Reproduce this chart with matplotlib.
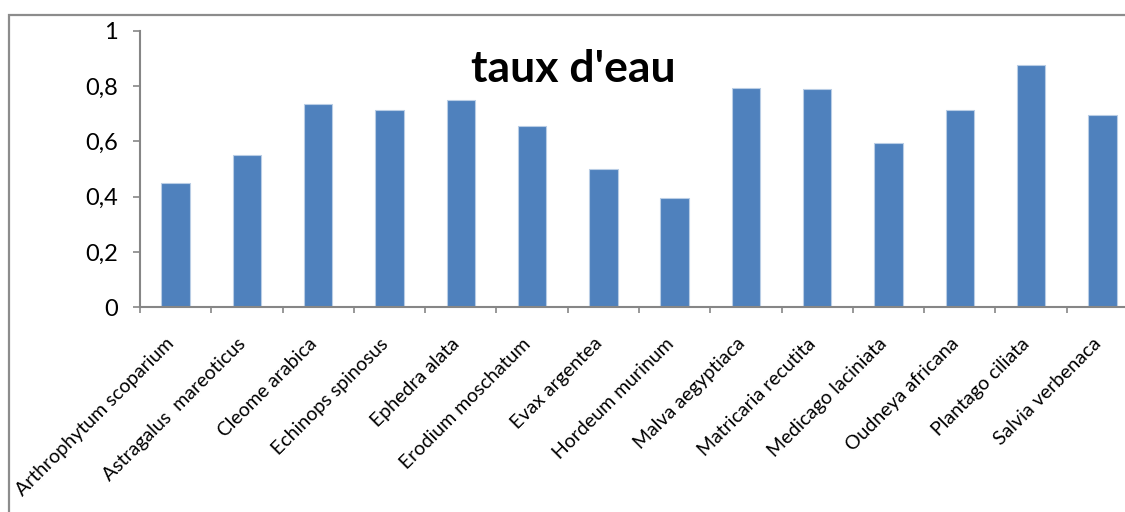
import numpy as np
import matplotlib
matplotlib.use("Agg")
import matplotlib.pyplot as plt
from matplotlib.patches import Rectangle
from matplotlib.transforms import ScaledTranslation

# Species and water content values
species = ["Arthrophytum scoparium", "Astragalus  mareoticus", "Cleome arabica",
           "Echinops spinosus", "Ephedra alata", "Erodium moschatum", "Evax argentea",
           "Hordeum murinum", "Malva aegyptiaca", "Matricaria recutita",
           "Medicago laciniata", "Oudneya africana", "Plantago ciliata", "Salvia verbenaca"]
taux_eau = [0.448, 0.549, 0.734, 0.713, 0.751, 0.657, 0.499,
            0.395, 0.793, 0.788, 0.595, 0.712, 0.875, 0.696]
yticks = [0, 0.2, 0.4, 0.6, 0.8, 1]
ytick_labels = ["0", "0,2", "0,4", "0,6", "0,8", "1"]

plt.rcParams['font.family'] = ['Lato', 'DejaVu Sans']
axis_col = '#868686'

fig = plt.figure(figsize=(11.25, 5.12), dpi=100)
fig.patch.set_facecolor('white')

# chart area border (cropped off on the right and bottom)
fig.patches.append(Rectangle((9/1125, -0.1), 1.1, 1.1 - 15/512,
                             transform=fig.transFigure, fill=False,
                             edgecolor='#8c8c8c', linewidth=1.6))

ax = fig.add_axes([140/1125, 1 - 307.3/512, 998/1125, 276.6/512])
x = np.arange(len(species))
ax.bar(x, taux_eau, width=0.4, color='#4F81BD', edgecolor='#B9CDE5', linewidth=0.8)

ax.set_xlim(-0.5, len(species) - 0.5)
ax.set_ylim(0, 1)
ax.set_yticks(yticks)
ax.set_yticklabels(ytick_labels)

ax.set_xticks(x)
ax.set_xticklabels(species, rotation=45, ha='right', va='top', rotation_mode='anchor')
ax.set_xticks(np.arange(len(species) + 1) - 0.5, minor=True)
ax.tick_params(axis='x', which='major', length=0, pad=12, labelsize=14)
ax.tick_params(axis='x', which='minor', length=4, width=1.2, color=axis_col, direction='out')
ax.tick_params(axis='y', length=5, width=1.2, color=axis_col, pad=11, labelsize=17)

shift = ScaledTranslation(-10/100, -11/100, fig.dpi_scale_trans)
for lbl in ax.get_xticklabels():
    lbl.set_transform(lbl.get_transform() + shift)

for s in ['top', 'right']:
    ax.spines[s].set_visible(False)
for s in ['left', 'bottom']:
    ax.spines[s].set_color(axis_col)
    ax.spines[s].set_linewidth(1.5)

fig.text(573/1125, 1 - 82/512, "taux d'eau", ha='center', va='baseline',
         fontsize=32, fontweight='bold')

fig.savefig('out.png', dpi=100)
